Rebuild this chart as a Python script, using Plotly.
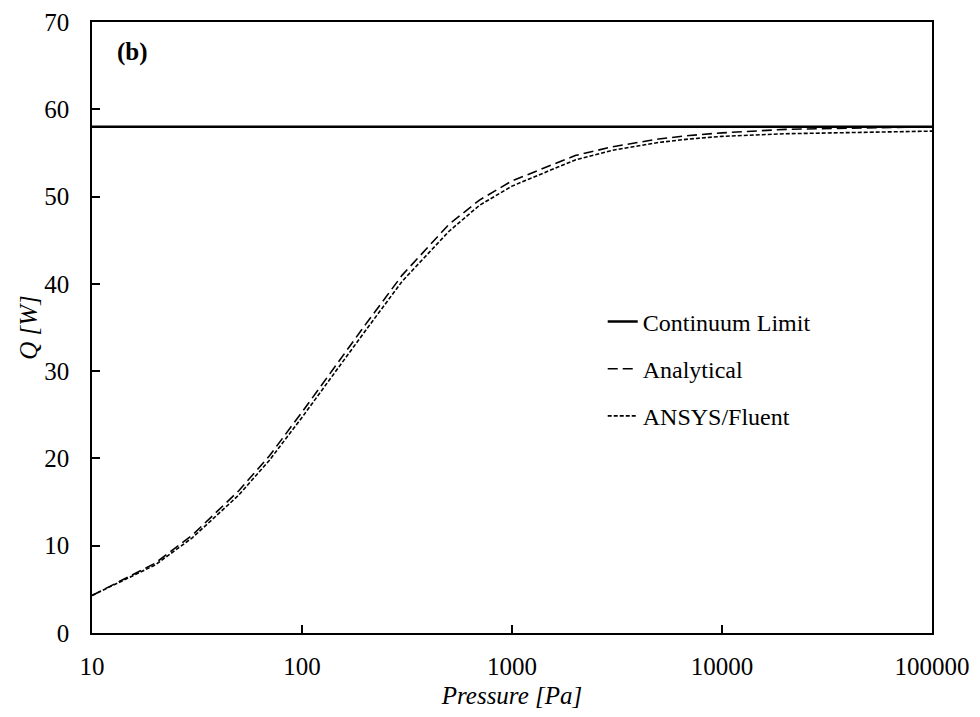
import plotly.graph_objects as go

pressure = [10, 20, 30, 50, 70, 100, 200, 300, 500, 700, 1000, 2000, 3000, 5000, 7000, 10000, 20000, 50000, 100000]
analytical = [4.3, 8.0, 11.2, 16.3, 20.3, 25.3, 35.3, 41.0, 46.8, 49.6, 51.8, 54.7, 55.7, 56.6, 57.0, 57.3, 57.7, 57.9, 58.0]
ansys = [4.3, 7.8, 10.9, 15.8, 19.8, 24.7, 34.6, 40.3, 46.0, 49.0, 51.2, 54.2, 55.3, 56.2, 56.6, 56.9, 57.2, 57.4, 57.5]
continuum_x = [10, 100000]
continuum_y = [58.0, 58.0]

x_ticks = [10, 100, 1000, 10000, 100000]
x_tick_labels = ["10", "100", "1000", "10000", "100000"]
y_ticks = [0, 10, 20, 30, 40, 50, 60, 70]

font = "Liberation Serif, Times New Roman, serif"
fs = 25

fig = go.Figure()
fig.add_trace(go.Scatter(x=continuum_x, y=continuum_y, mode="lines", name="Continuum Limit",
                         line=dict(color="black", width=2.5), legendgroup="a"))
fig.add_trace(go.Scatter(x=pressure, y=analytical, mode="lines", name="Analytical",
                         line=dict(color="black", width=1.6, dash="10px,5px"), legendgroup="b"))
fig.add_trace(go.Scatter(x=pressure, y=ansys, mode="lines", name="ANSYS/Fluent",
                         line=dict(color="black", width=1.6, dash="4px,2px"), legendgroup="c"))

fig.update_layout(
    width=980, height=717,
    margin=dict(l=92, r=48, t=22, b=84, autoexpand=False),
    paper_bgcolor="white", plot_bgcolor="white",
    font=dict(family=font, color="black", size=fs),
    legend=dict(x=0.608, y=0.546, xanchor="left", yanchor="top",
                font=dict(family=font, size=24, color="black"),
                tracegroupgap=13, traceorder="grouped", bgcolor="rgba(0,0,0,0)"),
    xaxis=dict(type="log", range=[1, 5], tickvals=x_ticks, ticktext=x_tick_labels,
               ticks="inside", ticklen=8, tickwidth=1.5, tickcolor="black",
               showline=True, linecolor="black", linewidth=1.5, mirror=True,
               showgrid=False, zeroline=False, ticklabelstandoff=10, automargin=False,
               tickfont=dict(family=font, size=fs, color="black"),
               title=dict(text="<i>Pressure [Pa]</i>", font=dict(family=font, size=fs), standoff=8)),
    yaxis=dict(range=[0, 70], tickvals=y_ticks,
               ticks="inside", ticklen=8, tickwidth=1.5, tickcolor="black",
               showline=True, linecolor="black", linewidth=1.5, mirror=True,
               showgrid=False, zeroline=False, ticklabelstandoff=16, automargin=False,
               tickfont=dict(family=font, size=fs, color="black"),
               title=dict(text="<i>Q [W]</i>", font=dict(family=font, size=fs), standoff=0)),
    annotations=[dict(text="<b>(b)</b>", x=0.027, y=0.951, xref="paper", yref="paper",
                      xanchor="left", yanchor="middle", showarrow=False,
                      font=dict(family=font, size=fs, color="black"))],
)

fig.write_html("out.html")
